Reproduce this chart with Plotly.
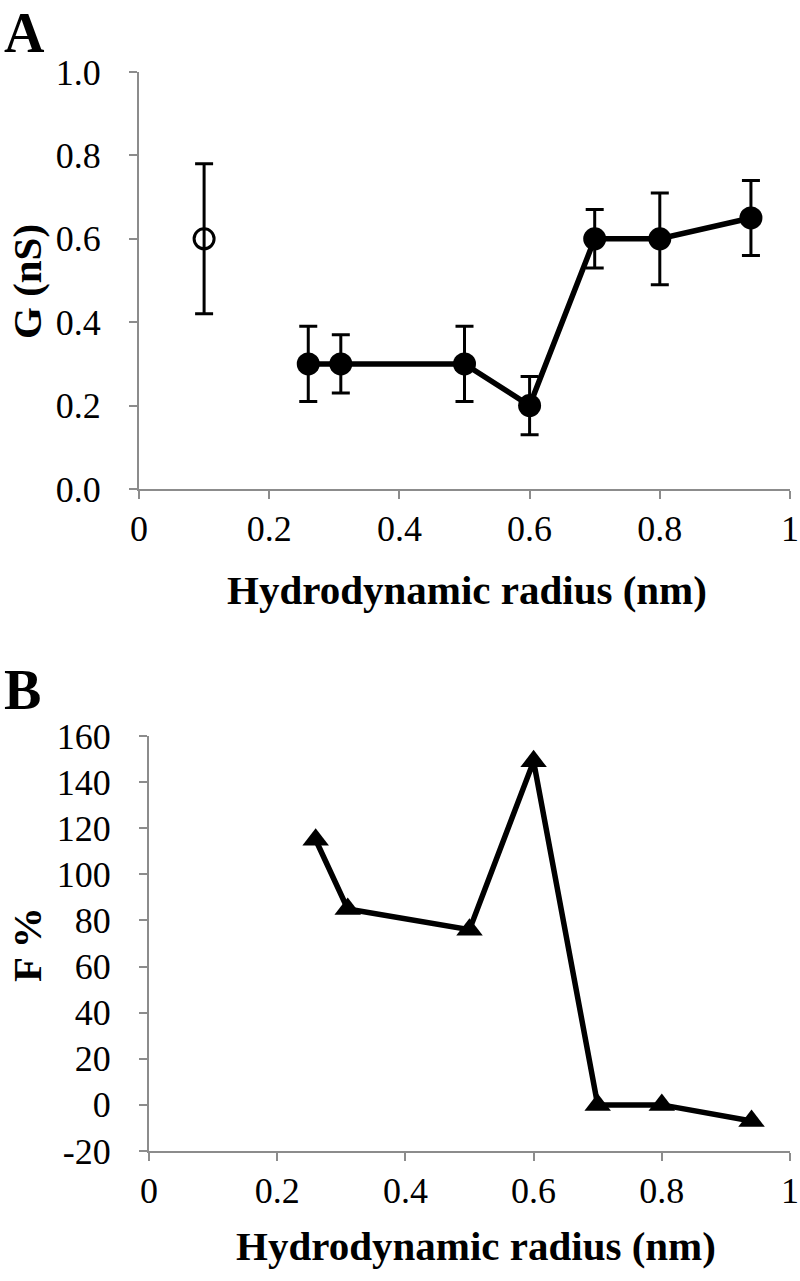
import plotly.graph_objects as go

# Panel A data
radius_open = [0.1]
g_open = [0.6]
g_open_err = [0.18]

radius = [0.26, 0.31, 0.5, 0.6, 0.7, 0.8, 0.94]
g_values = [0.3, 0.3, 0.3, 0.2, 0.6, 0.6, 0.65]
g_err = [0.09, 0.07, 0.09, 0.07, 0.07, 0.11, 0.09]

# Panel B data
f_percent = [115, 85, 76, 149, 0, 0, -7]

x_ticks = [0, 0.2, 0.4, 0.6, 0.8, 1]
x_ticktext = ["0", "0.2", "0.4", "0.6", "0.8", "1"]
ya_ticks = [0, 0.2, 0.4, 0.6, 0.8, 1.0]
ya_ticktext = ["0.0", "0.2", "0.4", "0.6", "0.8", "1.0"]
yb_ticks = [-20, 0, 20, 40, 60, 80, 100, 120, 140, 160]
yb_ticktext = ["-20", "0", "20", "40", "60", "80", "100", "120", "140", "160"]

FONT = "Liberation Serif"
AXIS_GRAY = "#8c8c8c"
W, H = 800, 1281

fig = go.Figure()

fig.add_trace(go.Scatter(
    x=radius_open, y=g_open, mode="markers",
    marker=dict(symbol="circle-open", size=20, color="black", line=dict(width=3, color="black")),
    error_y=dict(type="data", array=g_open_err, color="black", thickness=3, width=9),
    xaxis="x", yaxis="y", showlegend=False,
))
fig.add_trace(go.Scatter(
    x=radius, y=g_values, mode="lines+markers",
    line=dict(color="black", width=5.5),
    marker=dict(symbol="circle", size=23, color="black"),
    error_y=dict(type="data", array=g_err, color="black", thickness=3, width=9),
    xaxis="x", yaxis="y", showlegend=False,
))
fig.add_trace(go.Scatter(
    x=radius, y=f_percent, mode="lines+markers",
    line=dict(color="black", width=5.5),
    marker=dict(symbol="triangle-up", size=23, color="black"),
    xaxis="x2", yaxis="y2", showlegend=False,
))

axis_common = dict(
    showgrid=False, zeroline=False, showline=True, linecolor=AXIS_GRAY, linewidth=2,
    ticks="outside", ticklen=8, tickwidth=2, tickcolor=AXIS_GRAY,
    tickfont=dict(family=FONT, size=36, color="black"),
    automargin=False, ticklabeloverflow="allow",
)
title_font = dict(family=FONT, size=41, color="black")


def px_x(p):
    return p / W


def px_y(p):
    return 1 - p / H


fig.update_layout(
    width=W, height=H,
    margin=dict(l=0, r=0, t=0, b=0),
    paper_bgcolor="white", plot_bgcolor="white",
    xaxis=dict(domain=[px_x(139), px_x(790)], range=[0, 1], anchor="y",
               tickvals=x_ticks, ticktext=x_ticktext, ticklabelstandoff=-1,
               **axis_common),
    yaxis=dict(domain=[px_y(489), px_y(72)], range=[0, 1], anchor="x",
               tickvals=ya_ticks, ticktext=ya_ticktext, ticklabelstandoff=21,
               **axis_common),
    xaxis2=dict(domain=[px_x(149), px_x(790)], range=[0, 1], anchor="y2",
                tickvals=x_ticks, ticktext=x_ticktext, ticklabelstandoff=-1,
                **axis_common),
    yaxis2=dict(domain=[px_y(1151), px_y(736)], range=[-20, 160], anchor="x2",
                tickvals=yb_ticks, ticktext=yb_ticktext, ticklabelstandoff=21,
                **axis_common),
    annotations=[
        dict(text="<b>Hydrodynamic radius (nm)</b>", x=px_x(467), y=px_y(590),
             xref="paper", yref="paper", xanchor="center", yanchor="middle",
             showarrow=False, font=title_font),
        dict(text="<b>Hydrodynamic radius (nm)</b>", x=px_x(476), y=px_y(1246),
             xref="paper", yref="paper", xanchor="center", yanchor="middle",
             showarrow=False, font=title_font),
        dict(text="<b>G (nS)</b>", x=px_x(27), y=px_y(282), textangle=-90,
             xref="paper", yref="paper", xanchor="center", yanchor="middle",
             showarrow=False, font=title_font),
        dict(text="<b>F %</b>", x=px_x(27), y=px_y(945), textangle=-90,
             xref="paper", yref="paper", xanchor="center", yanchor="middle",
             showarrow=False, font=title_font),
        dict(text="<b>A</b>", x=px_x(2), y=1.0,
             xref="paper", yref="paper", xanchor="left", yanchor="top",
             showarrow=False, font=dict(family=FONT, size=56, color="black")),
        dict(text="<b>B</b>", x=px_x(2), y=px_y(657),
             xref="paper", yref="paper", xanchor="left", yanchor="top",
             showarrow=False, font=dict(family=FONT, size=56, color="black")),
    ],
)

# Remove the default page margin so the 800x1281 figure fills the window exactly.
fig.write_html("out.html", config={"displayModeBar": False},
               post_script="document.body.style.margin='0';")
